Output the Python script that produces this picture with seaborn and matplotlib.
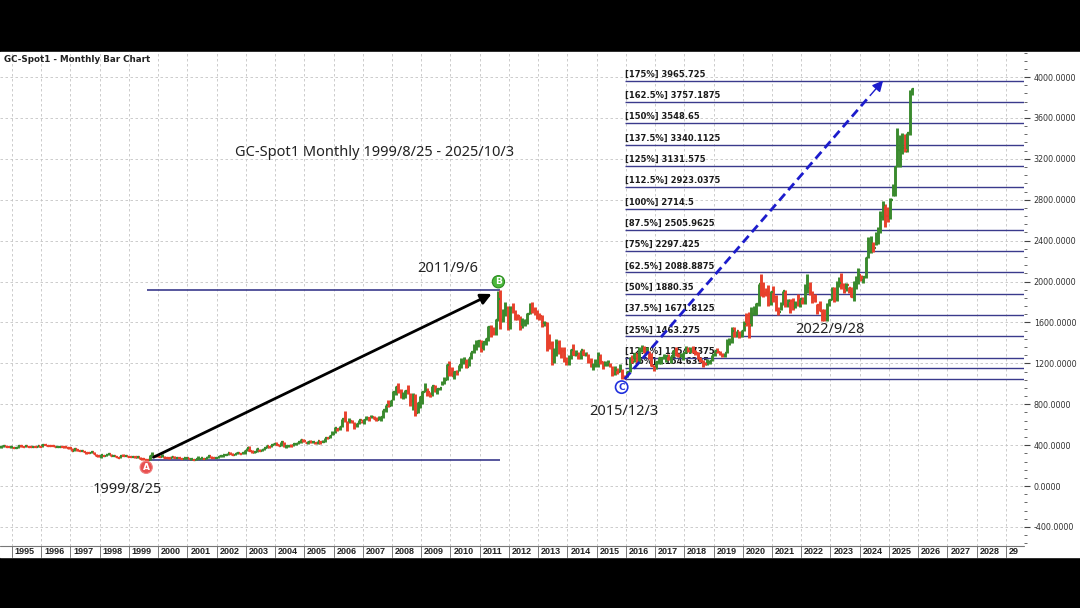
import numpy as np
import pandas as pd
import seaborn as sns
import matplotlib
matplotlib.use("Agg")
import matplotlib.pyplot as plt
import matplotlib.transforms as mtransforms
from matplotlib.patches import Rectangle
from matplotlib.ticker import MultipleLocator, FormatStrFormatter

# monthly gold spot bars, Aug 1994 .. Oct 2025
start_year, start_month = 1994, 8

close = [
    385.8, 394.9, 383.2, 383.1, 383.3,
    374.9, 376.4, 392.0, 389.8, 385.3, 387.1, 383.3, 382.7, 384.0, 382.7, 387.8, 387.0,
    405.4, 400.7, 396.3, 392.9, 391.8, 382.0, 385.9, 387.0, 379.0, 378.8, 371.3, 369.2,
    345.5, 358.6, 348.2, 340.2, 344.9, 334.6, 326.4, 325.4, 332.1, 311.4, 296.8, 290.2,
    303.0, 297.4, 301.0, 310.7, 293.6, 296.3, 288.9, 273.4, 293.9, 292.3, 294.7, 287.8,
    287.1, 287.3, 279.5, 286.6, 268.6, 261.3, 255.6, 254.8, 299.0, 299.1, 291.4, 290.3,
    283.3, 293.6, 278.4, 274.2, 273.1, 288.2, 276.8, 277.0, 273.7, 264.5, 270.0, 272.7,
    265.6, 267.1, 258.0, 264.1, 267.6, 270.6, 265.5, 273.0, 293.1, 278.8, 275.3, 276.5,
    282.3, 296.9, 301.4, 308.2, 326.6, 318.5, 304.7, 312.8, 323.7, 316.9, 319.1, 347.2,
    367.5, 347.5, 334.9, 336.8, 361.4, 346.0, 354.8, 375.6, 388.0, 386.3, 398.4, 416.1,
    402.6, 396.8, 427.0, 388.2, 393.0, 395.0, 390.8, 408.1, 415.7, 428.4, 453.4, 438.0,
    422.2, 435.5, 428.7, 434.9, 417.3, 437.0, 429.5, 433.3, 472.6, 470.8, 494.5, 513.0,
    568.8, 556.0, 582.0, 654.5, 642.5, 613.5, 632.5, 623.5, 599.3, 603.8, 646.7, 632.0,
    650.5, 664.2, 661.8, 679.1, 659.1, 650.5, 665.5, 672.0, 743.0, 789.5, 783.5, 833.8,
    923.3, 971.5, 933.5, 871.0, 885.8, 930.3, 914.0, 833.0, 884.5, 718.0, 814.5, 869.8,
    919.5, 942.0, 916.5, 883.3, 975.5, 926.0, 948.5, 955.5, 996.0, 1040.0, 1182.0, 1096.0,
    1081.0, 1116.5, 1113.3, 1180.0, 1207.5, 1244.0, 1169.0, 1248.0, 1307.0, 1357.5, 1386.0, 1421.0,
    1332.0, 1409.0, 1439.0, 1556.0, 1536.5, 1500.0, 1628.5, 1828.0, 1620.0, 1714.0, 1746.0, 1564.0,
    1738.0, 1710.0, 1668.0, 1664.0, 1560.0, 1604.0, 1614.0, 1687.0, 1773.0, 1719.0, 1711.0, 1675.0,
    1663.0, 1578.0, 1595.0, 1472.0, 1392.0, 1234.0, 1313.0, 1396.0, 1327.0, 1323.0, 1250.0, 1202.0,
    1244.0, 1326.0, 1284.0, 1296.0, 1250.0, 1327.0, 1282.0, 1287.0, 1210.0, 1172.0, 1183.0, 1184.0,
    1283.0, 1213.0, 1183.0, 1184.0, 1190.0, 1172.0, 1095.0, 1132.0, 1115.0, 1142.0, 1065.0, 1061.0,
    1118.0, 1238.0, 1233.0, 1293.0, 1215.0, 1322.0, 1351.0, 1309.0, 1316.0, 1277.0, 1173.0, 1152.0,
    1211.0, 1249.0, 1249.0, 1268.0, 1269.0, 1242.0, 1269.0, 1322.0, 1280.0, 1271.0, 1275.0, 1303.0,
    1345.0, 1318.0, 1325.0, 1315.0, 1299.0, 1253.0, 1224.0, 1202.0, 1192.0, 1215.0, 1222.0, 1282.0,
    1321.0, 1313.0, 1292.0, 1284.0, 1305.0, 1409.0, 1413.0, 1520.0, 1472.0, 1513.0, 1464.0, 1517.0,
    1587.0, 1585.0, 1577.0, 1686.0, 1730.0, 1781.0, 1975.0, 1968.0, 1886.0, 1879.0, 1776.0, 1898.0,
    1847.0, 1734.0, 1707.0, 1769.0, 1906.0, 1770.0, 1814.0, 1813.0, 1742.0, 1783.0, 1774.0, 1829.0,
    1796.0, 1909.0, 1937.0, 1897.0, 1837.0, 1807.0, 1766.0, 1711.0, 1660.0, 1633.0, 1768.0, 1824.0,
    1928.0, 1827.0, 1969.0, 1990.0, 1962.0, 1919.0, 1965.0, 1940.0, 1849.0, 1983.0, 2036.0, 2063.0,
    2039.0, 2044.0, 2230.0, 2286.0, 2327.0, 2326.0, 2447.0, 2503.0, 2635.0, 2744.0, 2643.0, 2625.0,
    2798.0, 2858.0, 3124.0, 3289.0, 3289.0, 3303.0, 3290.0, 3448.0, 3858.0, 3886.0,
]

high = [
    388, 397, 395, 390, 386,
    382, 378, 393, 396, 391, 391, 389, 388, 385, 387, 389, 389,
    415, 416, 402, 398, 395, 391, 388, 389, 387, 386, 383, 374,
    368, 364, 358, 348, 348, 345, 334, 331, 336, 333, 312, 299,
    306, 305, 303, 314, 311, 299, 297, 288, 296, 312, 300, 297,
    293, 290, 290, 292, 289, 266, 262, 260, 300, 338, 300, 296,
    292, 315, 298, 284, 279, 295, 291, 282, 279, 274, 272, 275,
    272, 269, 268, 266, 291, 273, 268, 278, 293, 290, 280, 279,
    285, 303, 304, 310, 327, 329, 321, 315, 330, 322, 321, 350,
    373, 389, 353, 341, 372, 365, 361, 376, 397, 394, 400, 417,
    427, 410, 430, 427, 395, 399, 408, 414, 420, 430, 456, 456,
    431, 437, 447, 438, 434, 441, 438, 447, 474, 478, 497, 537,
    574, 570, 584, 655, 730, 637, 670, 643, 622, 612, 650, 640,
    657, 690, 670, 695, 690, 671, 684, 675, 745, 790, 842, 838,
    930, 975, 1011, 947, 920, 943, 988, 913, 912, 904, 825, 880,
    930, 1005, 957, 918, 978, 987, 960, 960, 1023, 1070, 1195, 1226,
    1162, 1126, 1137, 1180, 1249, 1265, 1242, 1250, 1308, 1388, 1424, 1431,
    1424, 1411, 1448, 1564, 1577, 1555, 1632, 1912, 1920, 1730, 1804, 1764,
    1764, 1791, 1718, 1678, 1666, 1641, 1631, 1692, 1789, 1796, 1755, 1724,
    1694, 1676, 1616, 1604, 1487, 1417, 1348, 1434, 1425, 1361, 1361, 1267,
    1280, 1345, 1392, 1331, 1315, 1332, 1345, 1312, 1287, 1256, 1204, 1239,
    1307, 1293, 1222, 1224, 1232, 1205, 1175, 1170, 1157, 1191, 1142, 1089,
    1128, 1263, 1283, 1303, 1304, 1362, 1375, 1367, 1357, 1318, 1306, 1180,
    1220, 1264, 1262, 1295, 1270, 1296, 1270, 1326, 1357, 1306, 1299, 1306,
    1366, 1361, 1356, 1365, 1326, 1309, 1266, 1237, 1214, 1243, 1237, 1284,
    1326, 1347, 1324, 1298, 1306, 1439, 1452, 1555, 1557, 1518, 1516, 1523,
    1611, 1689, 1704, 1747, 1765, 1789, 1981, 2075, 1992, 1933, 1966, 1906,
    1959, 1871, 1755, 1798, 1912, 1916, 1832, 1833, 1836, 1814, 1877, 1831,
    1853, 1974, 2070, 1998, 1910, 1880, 1784, 1807, 1735, 1730, 1786, 1833,
    1949, 1947, 2009, 2049, 2079, 1983, 1987, 1949, 1947, 2009, 2052, 2135,
    2065, 2052, 2236, 2431, 2450, 2387, 2484, 2531, 2686, 2790, 2761, 2726,
    2817, 2956, 3128, 3500, 3435, 3452, 3439, 3453, 3871, 3897,
]

low = [
    375, 384, 382, 381, 371,
    372, 371, 375, 387, 383, 383, 382, 380, 380, 380, 381, 384,
    387, 398, 395, 389, 390, 380, 381, 384, 378, 377, 370, 367,
    345, 341, 347, 339, 340, 334, 314, 319, 319, 311, 290, 283,
    279, 292, 290, 300, 292, 290, 287, 273, 272, 291, 290, 286,
    284, 283, 278, 279, 268, 257, 252, 252, 255, 296, 290, 280,
    281, 283, 276, 273, 267, 273, 276, 271, 272, 263, 262, 264,
    261, 256, 255, 255, 262, 263, 264, 265, 270, 278, 270, 274,
    276, 281, 287, 301, 307, 314, 302, 301, 311, 312, 314, 317,
    344, 346, 323, 325, 337, 342, 342, 351, 371, 374, 378, 398,
    399, 392, 395, 386, 376, 386, 385, 390, 398, 413, 426, 430,
    417, 411, 424, 424, 415, 415, 416, 429, 435, 461, 469, 496,
    517, 542, 553, 582, 631, 543, 612, 612, 560, 573, 603, 613,
    603, 648, 637, 670, 652, 638, 646, 641, 667, 728, 778, 784,
    846, 890, 913, 860, 853, 861, 902, 787, 740, 681, 710, 765,
    807, 918, 880, 868, 880, 918, 905, 938, 990, 1003, 1041, 1075,
    1072, 1045, 1089, 1121, 1154, 1195, 1156, 1177, 1242, 1305, 1330, 1359,
    1309, 1326, 1381, 1419, 1462, 1478, 1478, 1610, 1534, 1605, 1667, 1523,
    1537, 1694, 1627, 1626, 1527, 1548, 1565, 1585, 1685, 1697, 1673, 1636,
    1627, 1555, 1564, 1321, 1338, 1180, 1208, 1271, 1290, 1252, 1211, 1188,
    1182, 1241, 1277, 1268, 1240, 1241, 1281, 1273, 1206, 1160, 1131, 1167,
    1167, 1191, 1142, 1170, 1170, 1162, 1077, 1084, 1098, 1113, 1052, 1046,
    1062, 1111, 1208, 1209, 1200, 1208, 1311, 1302, 1304, 1241, 1171, 1122,
    1146, 1191, 1194, 1240, 1214, 1236, 1205, 1267, 1274, 1260, 1264, 1236,
    1303, 1307, 1303, 1301, 1282, 1246, 1211, 1160, 1180, 1182, 1196, 1221,
    1276, 1303, 1281, 1266, 1267, 1305, 1382, 1400, 1459, 1459, 1445, 1454,
    1517, 1563, 1451, 1568, 1671, 1671, 1757, 1863, 1849, 1860, 1765, 1775,
    1803, 1717, 1677, 1720, 1766, 1750, 1750, 1688, 1721, 1746, 1762, 1753,
    1781, 1780, 1890, 1872, 1787, 1805, 1681, 1709, 1615, 1618, 1616, 1764,
    1823, 1805, 1810, 1950, 1932, 1893, 1903, 1885, 1848, 1810, 1931, 1973,
    2002, 1985, 2039, 2228, 2277, 2286, 2353, 2364, 2472, 2604, 2537, 2583,
    2614, 2833, 2833, 3121, 3121, 3248, 3268, 3268, 3436, 3820,
]

# fibonacci extension levels printed on the chart
fib_pcts = ["175%", "162.5%", "150%", "137.5%", "125%", "112.5%", "100%", "87.5%",
            "75%", "62.5%", "50%", "37.5%", "25%", "12.5%", "6.5%", "0%"]
fib_values = [3965.725, 3757.1875, 3548.65, 3340.1125, 3131.575, 2923.0375, 2714.5, 2505.9625,
              2297.425, 2088.8875, 1880.35, 1671.8125, 1463.275, 1254.7375, 1154.6395, 1046.2]

years = list(range(1995, 2030))
point_a = (1999, 8)
point_b = (2011, 9)
point_c = (2015, 12)
point_d = (2022, 9)

up_col = "#3a8a2e"
down_col = "#e8412c"
line_col = "#3a3a8c"

n = len(close)
df = pd.DataFrame({"close": close, "high": high, "low": low})
df["open"] = df["close"].shift(1).fillna(df["close"])
df["x"] = start_year + (start_month - 1 + np.arange(n) + 0.5) / 12
df["col"] = np.where(df["close"] >= df["open"], up_col, down_col)


def row(ym):
    return df.iloc[(ym[0] - start_year) * 12 + ym[1] - start_month]


sns.set_theme(style="white")
plt.rcParams["font.family"] = ["DejaVu Sans"]

fig = plt.figure(figsize=(10.8, 6.08), dpi=100, facecolor="black")
fig.add_artist(Rectangle((0, 1 - 557 / 608), 1, (557 - 52) / 608,
                         transform=fig.transFigure, color="white", zorder=0))
ax = fig.add_axes([0, 1 - 546 / 608, 1024 / 1080, (546 - 52) / 608])
ax.set_facecolor("white")
ax.set_xlim(1994.59, 2029.62)
ax.set_ylim(-586, 4245)

# grid
ax.set_xticks(years)
ax.set_yticks(np.arange(-400, 4001, 400))
ax.yaxis.set_minor_locator(MultipleLocator(80))
ax.grid(True, which="major", color="#c4c4c4", lw=0.6, ls=(0, (3, 3)))
ax.tick_params(axis="x", length=0, labelbottom=False)
ax.yaxis.tick_right()
ax.yaxis.set_major_formatter(FormatStrFormatter("%.4f"))
ax.tick_params(axis="y", which="major", direction="out", length=4, width=0.8,
               color="#444444", labelsize=5.8, labelcolor="#333333", pad=3, right=True)
ax.tick_params(axis="y", which="minor", direction="out", length=2, width=0.7,
               color="#666666", right=True)
for s in ax.spines.values():
    s.set_visible(False)

# fibonacci lines and labels
xc = row(point_c)["x"]
x_end = ax.get_xlim()[1]
ax.hlines(fib_values, xc, x_end, color=line_col, lw=1.0, zorder=2)
for pct, val in zip(fib_pcts, fib_values):
    if pct == "0%":
        continue
    ax.annotate(f"[{pct}] {val}", xy=(xc, val), xytext=(0, 2), textcoords="offset pixels",
                ha="left", va="bottom", fontsize=6.0, fontweight="bold",
                color="#1a1a1a", zorder=1)

# A-B range lines
ra, rb, rc, rd = row(point_a), row(point_b), row(point_c), row(point_d)
ax.hlines([rb["high"], ra["low"]], ra["x"], rb["x"], color=line_col, lw=1.2, zorder=2)

# monthly bars
ax.vlines(df["x"], df["low"], df["high"], colors=df["col"], lw=2.1, zorder=4)
ax.hlines(df["open"], df["x"] - 0.06, df["x"], colors=df["col"], lw=1.6, zorder=4)
ax.hlines(df["close"], df["x"], df["x"] + 0.06, colors=df["col"], lw=1.6, zorder=4)

# A -> B arrow
ax.annotate("", xy=(rb["x"], rb["high"]), xytext=(ra["x"], ra["low"]),
            arrowprops=dict(arrowstyle="-|>", color="black", lw=2.0,
                            shrinkA=5, shrinkB=7, mutation_scale=16), zorder=5)

# C -> projection dashed arrow
tip = (2024.8, fib_values[0])
pre = (tip[0] - 0.05 * (tip[0] - xc), tip[1] - 0.05 * (tip[1] - rc["low"]))
ax.plot([xc, pre[0]], [rc["low"], pre[1]], color="#1c1ccc", lw=2.0,
        ls=(0, (3.2, 1.8)), zorder=5)
ax.annotate("", xy=tip, xytext=pre,
            arrowprops=dict(arrowstyle="-|>", color="#1c1ccc", lw=1.0,
                            shrinkA=0, shrinkB=0, mutation_scale=16), zorder=5)

# point markers
marker_font = dict(fontsize=6.5, fontweight="bold", ha="center", va="center", zorder=6)
ax.annotate("A", xy=(ra["x"], ra["low"]), xytext=(-1, -7), textcoords="offset pixels",
            color="white",
            bbox=dict(boxstyle="circle,pad=0.18", fc="#e8504f", ec="#f08080", lw=0.8),
            **marker_font)
ax.annotate("B", xy=(rb["x"], rb["high"]), xytext=(-2, 8), textcoords="offset pixels",
            color="white",
            bbox=dict(boxstyle="circle,pad=0.18", fc="#4cb83c", ec="#2a8a20", lw=0.8),
            **marker_font)
ax.annotate("C", xy=(rc["x"], rc["low"]), xytext=(-3, -8), textcoords="offset pixels",
            color="#2030dd",
            bbox=dict(boxstyle="circle,pad=0.18", fc="white", ec="#2030dd", lw=1.2),
            **marker_font)

# date labels
label_font = dict(fontsize=10.5, family=["Noto Sans", "DejaVu Sans"], color="#222222",
                  ha="center", va="center", zorder=6)
ax.annotate("1999/8/25", xy=(ra["x"], ra["low"]), xytext=(-20, -29),
            textcoords="offset pixels", **label_font)
ax.annotate("2011/9/6", xy=(rb["x"], rb["high"]), xytext=(-53, 21),
            textcoords="offset pixels", **label_font)
ax.annotate("2015/12/3", xy=(rc["x"], rc["low"]), xytext=(-1, -32),
            textcoords="offset pixels", **label_font)
ax.annotate("2022/9/28", xy=(rd["x"], rd["low"]), xytext=(8, -9),
            textcoords="offset pixels", **label_font)
ax.text(375 / 1024, (546 - 153) / 494, "GC-Spot1 Monthly 1999/8/25 - 2025/10/3",
        transform=ax.transAxes, **label_font)

# year strip below the plot
trans = mtransforms.blended_transform_factory(ax.transData, ax.transAxes)
strip = -11 / 494
ax.plot([1994.59, x_end], [0, 0], transform=trans, color="#777777", lw=0.8, clip_on=False)
for yr in years:
    ax.plot([yr, yr], [0, strip], transform=trans, color="#777777", lw=0.7, clip_on=False)
    ax.text(yr + 0.1, strip / 2, str(yr) if yr < 2029 else "29", transform=trans,
            ha="left", va="center", fontsize=6.5, fontweight="bold",
            family=["Liberation Sans", "DejaVu Sans"], color="#222222", clip_on=False)

fig.text(4 / 1080, 1 - 60 / 608, "GC-Spot1 - Monthly Bar Chart", ha="left", va="center",
         fontsize=6.3, fontweight="bold", color="#222222")

fig.savefig("out.png", dpi=100, facecolor=fig.get_facecolor())
